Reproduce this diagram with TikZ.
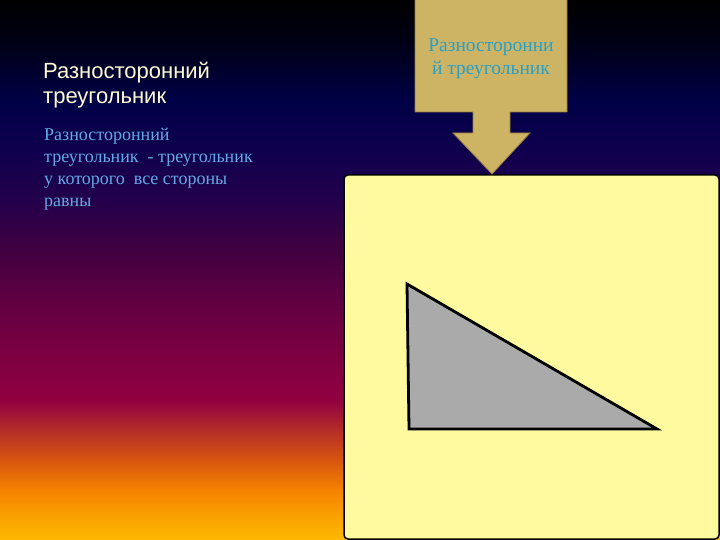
\documentclass[tikz,border=0pt]{standalone}
\usepackage{fontspec}
\setmainfont{Liberation Serif}
\newfontfamily\titlefont{Liberation Sans}
\definecolor{c0}{RGB}{0,0,0}
\definecolor{c1}{RGB}{0,0,20}
\definecolor{c2}{RGB}{0,0,70}
\definecolor{c3}{RGB}{15,0,78}
\definecolor{c4}{RGB}{35,0,75}
\definecolor{c5}{RGB}{65,0,65}
\definecolor{c6}{RGB}{95,0,65}
\definecolor{c7}{RGB}{122,0,65}
\definecolor{c8}{RGB}{145,0,65}
\definecolor{c9}{RGB}{180,45,40}
\definecolor{c10}{RGB}{215,85,15}
\definecolor{c11}{RGB}{245,130,0}
\definecolor{c12}{RGB}{250,160,0}
\definecolor{c13}{RGB}{255,185,0}
\definecolor{boxyellow}{RGB}{255,250,160}
\definecolor{tan}{RGB}{205,180,100}
\definecolor{tanedge}{RGB}{150,125,60}
\definecolor{titlecol}{RGB}{255,250,210}
\definecolor{bodycol}{RGB}{100,170,230}
\definecolor{calltext}{RGB}{40,160,200}
\definecolor{trigray}{RGB}{170,170,170}
\pgfdeclareverticalshading{slidebg}{100bp}{
color(0bp)=(c13);
color(25bp)=(c13);
color(27.31bp)=(c12);
color(29.63bp)=(c11);
color(32.41bp)=(c10);
color(35.19bp)=(c9);
color(37.96bp)=(c8);
color(42.59bp)=(c7);
color(47.22bp)=(c6);
color(51.85bp)=(c5);
color(56.48bp)=(c4);
color(61.11bp)=(c3);
color(65.74bp)=(c2);
color(71.30bp)=(c1);
color(75bp)=(c0);
color(100bp)=(c0)}
\tikzset{
  titletext/.style={anchor=base west, inner sep=0pt, text=titlecol, font=\titlefont\fontsize{22}{26}\selectfont},
  bodytext/.style={anchor=base west, inner sep=0pt, text=bodycol, font=\fontsize{18}{22}\selectfont},
  calloutext/.style={anchor=base, inner sep=0pt, text=calltext, font=\fontsize{19.5}{23}\selectfont},
}
\begin{document}
\begin{tikzpicture}[x=1pt,y=-1pt]
\useasboundingbox (0,0) rectangle (720,540);
\shade[shading=slidebg] (0,0) rectangle (720,540);
% yellow panel
\draw[fill=boxyellow, draw=black, line width=1.5pt, rounded corners=4pt] (344,175) rectangle (719,539);
% triangle
\coordinate (ta) at (407,284);
\coordinate (tb) at (409,429);
\coordinate (tc) at (657,429);
\draw[fill=trigray, draw=black, line width=2.8pt, line join=miter] (ta) -- (tb) -- (tc) -- cycle;
% callout
\draw[fill=tan, draw=tanedge, line width=0.8pt]
  (415,-2) -- (567,-2) -- (567,112) -- (510,112) -- (510,133) -- (530,133)
  -- (492,174) -- (453,133) -- (473,133) -- (473,112) -- (415,112) -- cycle;
\node[calloutext] (c1) at (491,52) {Разносторонни};
\node[calloutext] (c2) at (491,75) {й треугольник};
% title
\node[titletext] (t1) at (43,79) {Разносторонний};
\node[titletext] (t2) at (43,104) {треугольник};
% body
\node[bodytext] (b1) at (44,141) {Разносторонний};
\node[bodytext] (b2) at (44,163) {треугольник \ - треугольник};
\node[bodytext] (b3) at (44,185) {у которого \ все стороны};
\node[bodytext] (b4) at (44,207) {равны};
\end{tikzpicture}
\end{document}
